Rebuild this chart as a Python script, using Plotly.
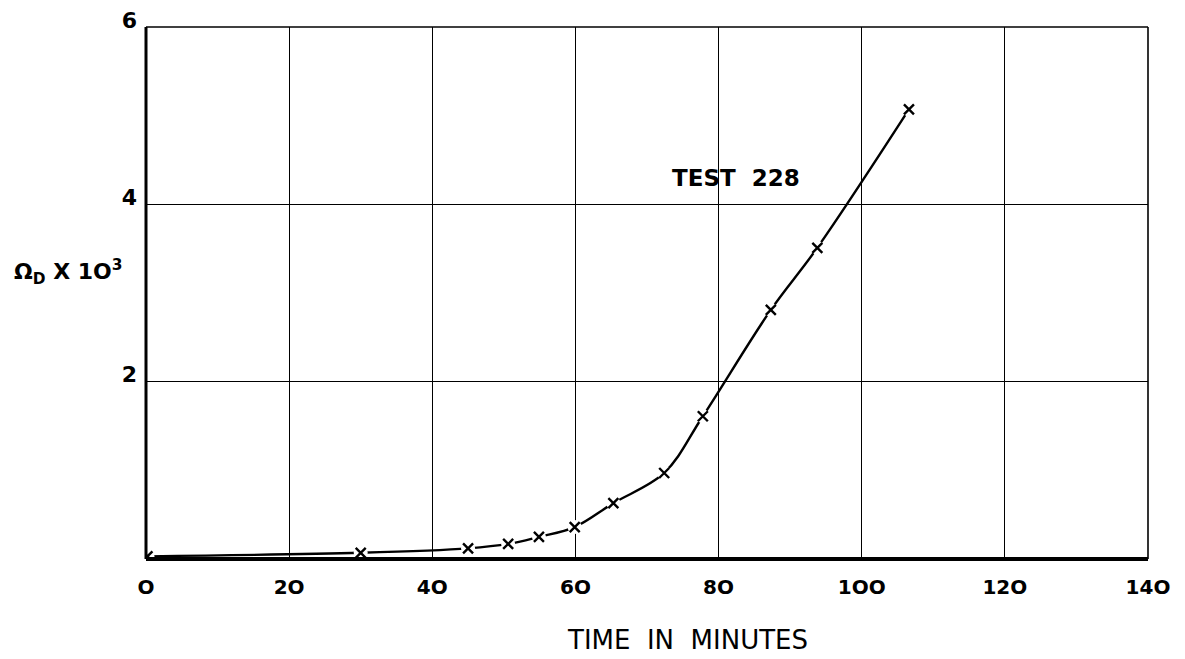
import plotly.graph_objects as go

time_min = [0.2, 30.0, 45.0, 50.6, 54.9, 59.9, 65.3, 72.4, 77.8, 87.3, 93.8, 106.6]
omega_d = [0.03, 0.07, 0.12, 0.17, 0.25, 0.36, 0.63, 0.97, 1.61, 2.81, 3.51, 5.07]

x_ticks = [0, 20, 40, 60, 80, 100, 120, 140]
x_tick_text = ["O", "2O", "4O", "6O", "8O", "1OO", "12O", "14O"]
y_ticks = [2, 4, 6]
y_tick_text = ["2", "4", "6"]

font = "DejaVu Sans"

fig = go.Figure()
fig.add_trace(go.Scatter(x=time_min, y=omega_d, mode="lines",
                         line=dict(color="black", width=2.4, shape="spline", smoothing=1.0),
                         hoverinfo="skip", showlegend=False))
fig.add_trace(go.Scatter(x=time_min, y=omega_d, mode="markers",
                         marker=dict(symbol="circle", size=14, color="white", line=dict(width=0)),
                         hoverinfo="skip", showlegend=False))
fig.add_trace(go.Scatter(x=time_min, y=omega_d, mode="markers",
                         marker=dict(symbol="x-thin-open", size=10, color="black",
                                     line=dict(width=2.4, color="black")),
                         showlegend=False))

fig.add_annotation(x=82.4, y=4.3, text="TEST&nbsp;&nbsp;228", showarrow=False,
                   font=dict(family=font, size=23, color="black", weight="bold"))
fig.add_annotation(xref="paper", yref="paper", x=-0.021, y=0.54, xanchor="right",
                   text="Ω<sub>D</sub> X 1O<sup>3</sup>", showarrow=False,
                   font=dict(family=font, size=22, color="black", weight="bold"))
fig.add_annotation(xref="paper", yref="paper", x=0.54, y=-0.152, yanchor="middle",
                   text="TIME&nbsp;&nbsp;IN&nbsp;&nbsp;MINUTES", showarrow=False,
                   font=dict(family=font, size=26, color="black"))

fig.update_xaxes(range=[0, 140], tickvals=x_ticks, ticktext=x_tick_text,
                 showgrid=True, gridcolor="black", gridwidth=1.3,
                 showline=False, zeroline=False, ticks="", automargin=False,
                 ticklabelstandoff=14,
                 tickfont=dict(family=font, size=20, color="black", weight="bold"))
fig.update_yaxes(range=[0, 6], tickvals=y_ticks, ticktext=y_tick_text,
                 showgrid=True, gridcolor="black", gridwidth=1.3,
                 showline=False, zeroline=False, ticks="", automargin=False,
                 ticklabelshift=-7, ticklabelstandoff=8,
                 tickfont=dict(family=font, size=22, color="black", weight="bold"))

# frame
fig.add_shape(type="line", xref="paper", yref="paper", x0=0, x1=1, y0=0, y1=0,
              line=dict(color="black", width=4))
fig.add_shape(type="line", xref="paper", yref="paper", x0=0, x1=0, y0=0, y1=1,
              line=dict(color="black", width=3))
fig.add_shape(type="line", xref="paper", yref="paper", x0=0, x1=1, y0=1, y1=1,
              line=dict(color="black", width=1.6))
fig.add_shape(type="line", xref="paper", yref="paper", x0=1, x1=1, y0=0, y1=1,
              line=dict(color="black", width=1.6))

fig.update_layout(width=1185, height=659, plot_bgcolor="white", paper_bgcolor="white",
                  margin=dict(l=146, r=37, t=27, b=100))

fig.write_html("out.html")
